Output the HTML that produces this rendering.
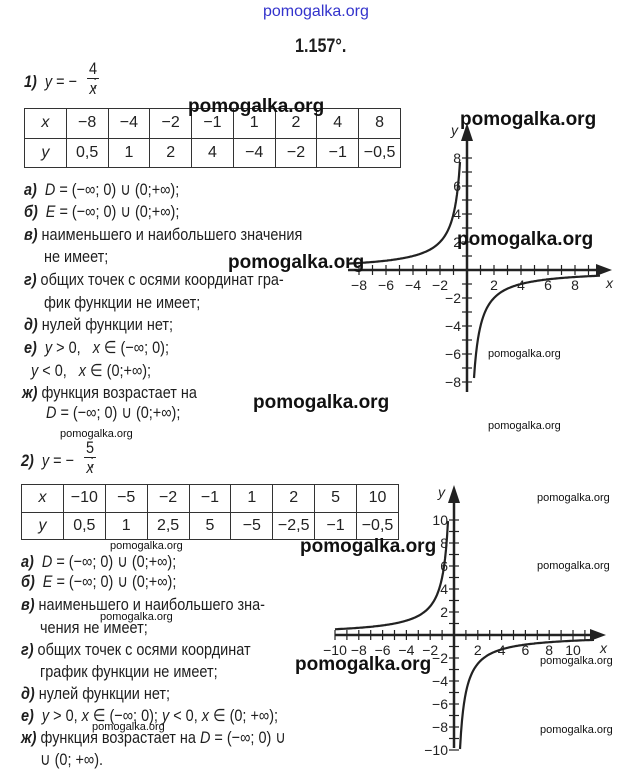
<!DOCTYPE html>
<html><head><meta charset="utf-8"><style>
body{margin:0;width:640px;height:783px;background:#fff;position:relative;overflow:hidden;font-family:"Liberation Sans",sans-serif;color:#1e1e1e}
.t{position:absolute;font-size:17px;white-space:nowrap;transform:scaleX(.85);transform-origin:0 50%;line-height:20px}
.t b{font-style:italic}
.w{position:absolute;font-family:"Liberation Sans",sans-serif;font-weight:bold;color:#111;font-size:19px;white-space:nowrap;line-height:20px}
.s{position:absolute;font-family:"Liberation Sans",sans-serif;color:#111;font-size:11px;white-space:nowrap;line-height:12px}
table{position:absolute;border-collapse:collapse;font-size:16px;table-layout:fixed}
td{border:1.5px solid #333;text-align:center;padding:0;color:#222}
i{font-style:italic}
.f{position:absolute;font-size:17px;transform:scaleX(.85);line-height:18px;width:14px;text-align:center}
</style></head><body>
<div class="w" style="left:263px;top:2px;font-size:16px;font-weight:normal;color:#3333cc">pomogalka.org</div>
<div class="t" style="left:295px;top:37px;font-weight:bold;font-size:19px">1.157°.</div>
<div class="t" style="left:24px;top:72px"><b>1)</b>&nbsp; <i>y</i> = −&nbsp;&nbsp;&nbsp;&nbsp;;</div>
<div class="f" style="left:86px;top:60px;border-bottom:1px solid #222">4</div>
<div class="f" style="left:86px;top:80px"><i>x</i></div>
<table style="left:24px;top:108px;width:377px;height:60px">
<tr><td><i>x</i></td><td>−8</td><td>−4</td><td>−2</td><td>−1</td><td>1</td><td>2</td><td>4</td><td>8</td></tr>
<tr><td><i>y</i></td><td>0,5</td><td>1</td><td>2</td><td>4</td><td>−4</td><td>−2</td><td>−1</td><td>−0,5</td></tr></table>
<div class="t" style="left:24px;top:180px"><b>а)</b>&nbsp; <i>D</i> = (−∞; 0) ∪ (0;+∞);</div>
<div class="t" style="left:24px;top:202px"><b>б)</b>&nbsp; <i>E</i> = (−∞; 0) ∪ (0;+∞);</div>
<div class="t" style="left:24px;top:225px"><b>в)</b>&nbsp;наименьшего и наибольшего значения</div>
<div class="t" style="left:44px;top:247px">не имеет;</div>
<div class="t" style="left:24px;top:270px"><b>г)</b>&nbsp;общих точек с осями координат гра-</div>
<div class="t" style="left:44px;top:293px">фик функции не имеет;</div>
<div class="t" style="left:24px;top:315px"><b>д)</b>&nbsp;нулей функции нет;</div>
<div class="t" style="left:24px;top:338px"><b>е)</b>&nbsp; <i>y</i> &gt; 0, &nbsp; <i>x</i> ∈ (−∞; 0);</div>
<div class="t" style="left:31px;top:361px"><i>y</i> &lt; 0, &nbsp; <i>x</i> ∈ (0;+∞);</div>
<div class="t" style="left:22px;top:383px"><b>ж)</b>&nbsp;функция возрастает на</div>
<div class="t" style="left:46px;top:403px"><i>D</i> = (−∞; 0) ∪ (0;+∞);</div>
<div class="t" style="left:21px;top:451px"><b>2)</b>&nbsp; <i>y</i> = −&nbsp;&nbsp;&nbsp;&nbsp;;</div>
<div class="f" style="left:83px;top:439px;border-bottom:1px solid #222">5</div>
<div class="f" style="left:83px;top:459px"><i>x</i></div>
<table style="left:21px;top:484px;width:378px;height:56px">
<tr><td><i>x</i></td><td>−10</td><td>−5</td><td>−2</td><td>−1</td><td>1</td><td>2</td><td>5</td><td>10</td></tr>
<tr><td><i>y</i></td><td>0,5</td><td>1</td><td>2,5</td><td>5</td><td>−5</td><td>−2,5</td><td>−1</td><td>−0,5</td></tr></table>
<div class="t" style="left:21px;top:552px"><b>а)</b>&nbsp; <i>D</i> = (−∞; 0) ∪ (0;+∞);</div>
<div class="t" style="left:21px;top:572px"><b>б)</b>&nbsp; <i>E</i> = (−∞; 0) ∪ (0;+∞);</div>
<div class="t" style="left:21px;top:595px"><b>в)</b>&nbsp;наименьшего и наибольшего зна-</div>
<div class="t" style="left:40px;top:618px">чения не имеет;</div>
<div class="t" style="left:21px;top:640px"><b>г)</b>&nbsp;общих точек с осями координат</div>
<div class="t" style="left:40px;top:662px">график функции не имеет;</div>
<div class="t" style="left:21px;top:684px"><b>д)</b>&nbsp;нулей функции нет;</div>
<div class="t" style="left:21px;top:706px"><b>е)</b>&nbsp; <i>y</i> &gt; 0, <i>x</i> ∈ (−∞; 0); <i>y</i> &lt; 0, <i>x</i> ∈ (0; +∞);</div>
<div class="t" style="left:21px;top:728px"><b>ж)</b>&nbsp;функция возрастает на <i>D</i> = (−∞; 0) ∪</div>
<div class="t" style="left:40px;top:750px">∪ (0; +∞).</div>
<svg id="g" width="640" height="783" style="position:absolute;left:0;top:0" font-family="Liberation Sans,sans-serif" font-size="14" fill="#222"></svg>
<div class="w" style="left:188px;top:97px">pomogalka.org</div>
<div class="w" style="left:460px;top:110px">pomogalka.org</div>
<div class="w" style="left:457px;top:230px">pomogalka.org</div>
<div class="w" style="left:228px;top:253px">pomogalka.org</div>
<div class="w" style="left:253px;top:393px">pomogalka.org</div>
<div class="w" style="left:300px;top:537px">pomogalka.org</div>
<div class="w" style="left:295px;top:655px">pomogalka.org</div>
<div class="s" style="left:488px;top:348px">pomogalka.org</div>
<div class="s" style="left:488px;top:420px">pomogalka.org</div>
<div class="s" style="left:60px;top:428px">pomogalka.org</div>
<div class="s" style="left:537px;top:492px">pomogalka.org</div>
<div class="s" style="left:537px;top:560px">pomogalka.org</div>
<div class="s" style="left:540px;top:655px">pomogalka.org</div>
<div class="s" style="left:540px;top:724px">pomogalka.org</div>
<div class="s" style="left:110px;top:540px">pomogalka.org</div>
<div class="s" style="left:100px;top:611px">pomogalka.org</div>
<div class="s" style="left:92px;top:721px">pomogalka.org</div>
<script>
var g=document.getElementById('g'),h='';
function graph(ox,oy,sx,sy,k,xmin,xmax,ymin,ymax,labs,xl,xr,yt,yb,ylab){
 h+='<line x1="'+xl+'" y1="'+oy+'" x2="'+(xr-4)+'" y2="'+oy+'" stroke="#222" stroke-width="2.5"/>';
 h+='<polygon points="'+xr+','+oy+' '+(xr-16)+','+(oy-6)+' '+(xr-16)+','+(oy+6)+'" fill="#222"/>';
 h+='<line x1="'+ox+'" y1="'+yb+'" x2="'+ox+'" y2="'+(yt+4)+'" stroke="#222" stroke-width="2.5"/>';
 h+='<polygon points="'+ox+','+yt+' '+(ox-6)+','+(yt+18)+' '+(ox+6)+','+(yt+18)+'" fill="#222"/>';
 for(var i=xmin;i<=xmax;i++){if(i==0)continue;var x=ox+i*sx;h+='<line x1="'+x+'" y1="'+(oy-5)+'" x2="'+x+'" y2="'+(oy+5)+'" stroke="#222" stroke-width="1.2"/>';}
 for(var j=ymin;j<=ymax;j++){if(j==0)continue;var y=oy-j*sy;h+='<line x1="'+(ox-5)+'" y1="'+y+'" x2="'+(ox+5)+'" y2="'+y+'" stroke="#222" stroke-width="1.2"/>';}
 labs.forEach(function(v){h+='<text x="'+(ox+v*sx)+'" y="'+(oy+20)+'" text-anchor="middle">'+(v<0?'−'+(-v):v)+'</text>';
  h+='<text x="'+(ox-6)+'" y="'+(oy-v*sy+5)+'" text-anchor="end">'+(v<0?'−'+(-v):v)+'</text>';});
 h+='<text x="'+(xr-6)+'" y="'+(oy+18)+'" font-style="italic">x</text><text x="'+(ox-16)+'" y="'+(yt+12)+'" font-style="italic">y</text>';
 var p='',q='';
 for(var t=xl;t<ox-2;t+=1){var xv=(t-ox)/sx,yv=-k/xv;if(yv>ylab)continue;p+=(p?'L':'M')+t.toFixed(1)+','+(oy-yv*sy).toFixed(1);}
 for(var t=ox+2;t<=xr-12;t+=1){var xv=(t-ox)/sx,yv=-k/xv;if(yv<-ylab)continue;q+=(q?'L':'M')+t.toFixed(1)+','+(oy-yv*sy).toFixed(1);}
 h+='<path d="'+p+'" fill="none" stroke="#222" stroke-width="2.2"/><path d="'+q+'" fill="none" stroke="#222" stroke-width="2.2"/>';
}
graph(467,270,13.5,14,4,-8,9,-8,8,[-8,-6,-4,-2,2,4,6,8],348,612,123,392,8.6);
graph(454,635,11.9,11.5,5,-10,11,-10,10,[-10,-8,-6,-4,-2,2,4,6,8,10],335,606,485,748,10.5);
g.innerHTML=h;
</script>
</body></html>
